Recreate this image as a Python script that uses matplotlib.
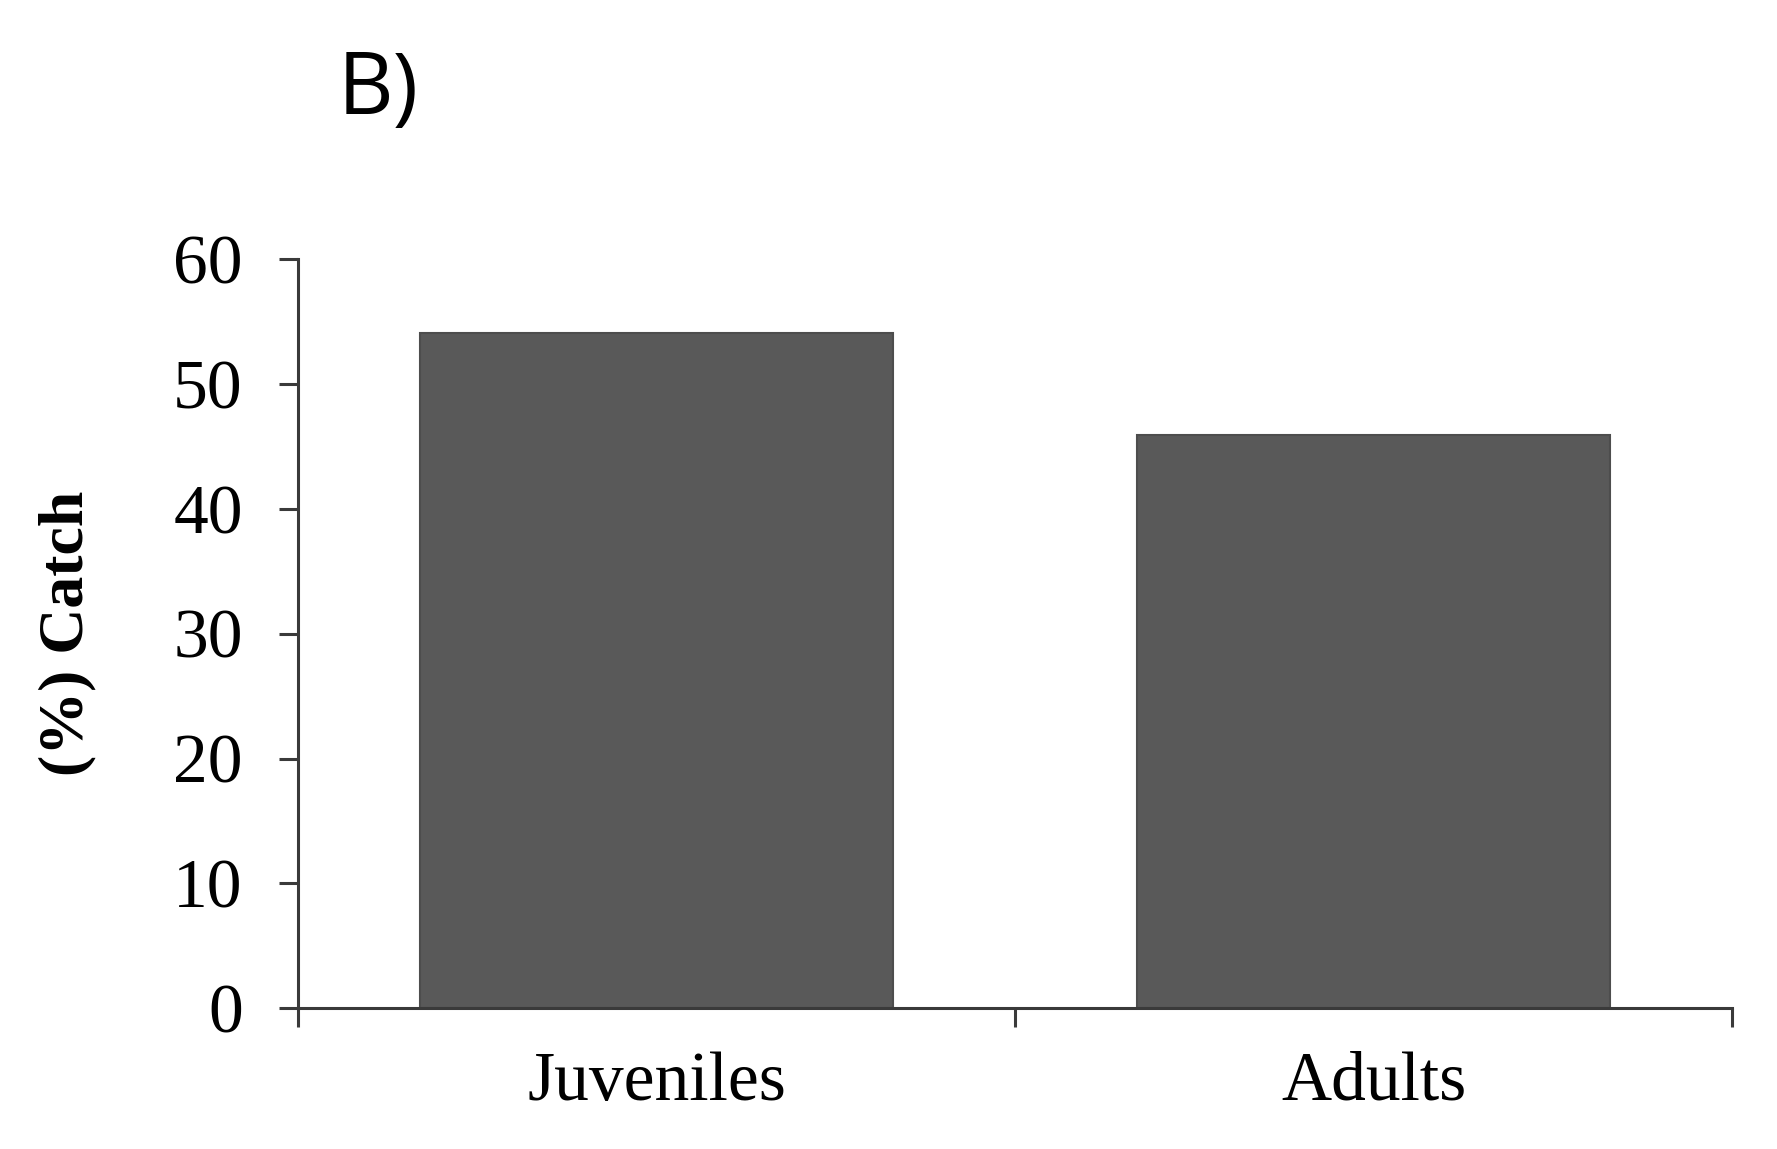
import matplotlib
matplotlib.use("Agg")
import matplotlib.pyplot as plt

# Data
categories = ["Juveniles", "Adults"]
catch_pct = [54.1, 45.9]
y_ticks = [0, 10, 20, 30, 40, 50, 60]

plt.rcParams['font.family'] = ['Liberation Serif', 'DejaVu Serif']

fig = plt.figure(figsize=(17.77, 11.49), dpi=100)
ax = fig.add_axes([0.1679, 0.1226, 0.8068, 0.6517])

x = range(len(categories))
ax.bar(x, catch_pct, width=0.66, color='#595959', edgecolor='#4d4d4d', linewidth=1.5)

ax.set_xlim(-0.5, len(categories) - 0.5)
ax.set_ylim(0, 60)
ax.set_yticks(y_ticks)
ax.set_xticks(list(x))
ax.set_xticklabels(categories)
ax.set_xticks([i - 0.5 for i in range(len(categories) + 1)], minor=True)

ax.spines['top'].set_visible(False)
ax.spines['right'].set_visible(False)
for s in ['left', 'bottom']:
    ax.spines[s].set_color('#3a3a3a')
    ax.spines[s].set_linewidth(2.2)

ax.tick_params(axis='y', direction='out', length=14, width=2.2, color='#3a3a3a',
               labelsize=50, pad=26)
ax.tick_params(axis='x', which='major', length=0, labelsize=50, pad=31)
ax.tick_params(axis='x', which='minor', direction='out', length=14, width=2.2,
               color='#3a3a3a')

ax.set_ylabel("(%) Catch", fontsize=46, fontweight='bold')
ax.yaxis.set_label_coords(-0.141, 0.5)

fig.text(0.19, 0.92, "B)", fontsize=62, family=['Open Sans', 'DejaVu Sans'],
         ha='left', va='center')

fig.savefig("out.png", dpi=100)
